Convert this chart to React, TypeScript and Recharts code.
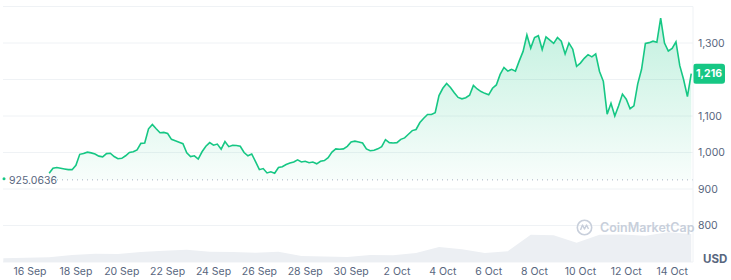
import React from 'react';
import { ComposedChart, Area, XAxis, YAxis, CartesianGrid, ReferenceLine } from 'recharts';

// time is counted in days from 16 Sep 00:00
const priceStartDay = 5 / 6; // 16 Sep 20:00
const priceStepsPerDay = 6; // one price every 4 hours
const volumeStartDay = -7 / 6; // 14 Sep 20:00, one volume per day

const priceValues = [
  943, 957, 959, 957, 955, 953, 953, 965, 995, 997,
  1001, 999, 996, 990, 988, 997, 998, 989, 983, 984,
  991, 1000, 1002, 1007, 1025, 1026, 1065, 1077, 1065, 1054,
  1055, 1052, 1036, 1032, 1028, 1024, 999, 989, 991, 982,
  1002, 1017, 1027, 1020, 1023, 1009, 1030, 1016, 1020, 1019,
  1017, 1000, 991, 996, 975, 953, 956, 944, 947, 943,
  959, 961, 967, 971, 974, 980, 974, 976, 972, 974,
  969, 976, 978, 986, 1001, 1010, 1009, 1010, 1017, 1029,
  1031, 1029, 1026, 1010, 1005, 1006, 1010, 1016, 1035, 1027,
  1026, 1027, 1036, 1040, 1050, 1060, 1063, 1082, 1094, 1104,
  1104, 1109, 1156, 1176, 1189, 1178, 1164, 1151, 1147, 1150,
  1157, 1184, 1174, 1167, 1162, 1158, 1176, 1185, 1214, 1233,
  1223, 1228, 1223, 1251, 1277, 1322, 1286, 1315, 1320, 1282,
  1317, 1308, 1299, 1315, 1305, 1270, 1300, 1283, 1236, 1245,
  1258, 1268, 1262, 1270, 1222, 1195, 1105, 1135, 1100, 1128,
  1160, 1146, 1120, 1128, 1188, 1228, 1299, 1301, 1305, 1302,
  1368, 1300, 1278, 1285, 1303, 1238, 1200, 1153, 1216,
];

// daily volume, $M
const volumeValues = [
  12, 13, 15, 22, 26, 25, 31, 35, 38, 32,
  31, 29, 32, 19, 17, 16, 22, 21, 28, 47,
  40, 28, 34, 85, 84, 60, 85, 86, 82, 93,
  88,
];

const openPrice = 925.0636;
const lastPrice = 1216;

const dayTicks = [0, 2, 4, 6, 8, 10, 12, 14, 16, 18, 20, 22, 24, 26, 28];
const dayLabels = ['16 Sep', '18 Sep', '20 Sep', '22 Sep', '24 Sep', '26 Sep', '28 Sep', '30 Sep', '2 Oct', '4 Oct', '6 Oct', '8 Oct', '10 Oct', '12 Oct', '14 Oct'];
const priceTicks = [700, 800, 900, 1000, 1100, 1200, 1300, 1400];
// gridlines only, no text (1,200 sits under the price badge)
const hiddenPriceLabels = [700, 1200, 1400];

const GREEN = '#16c784';
const AXIS_TEXT = '#58667e';

// merge both series onto one time table
const rows = new Map<string, any>();
const addRow = (t: number, patch: object) => {
  const key = t.toFixed(4);
  const row = rows.get(key) || { t };
  rows.set(key, Object.assign(row, patch));
};
priceValues.forEach((p, i) => addRow(priceStartDay + i / priceStepsPerDay, { price: p }));
volumeValues.forEach((v, k) => addRow(volumeStartDay + k, { volume: v }));
const chartData = [...rows.values()].sort((a, b) => a.t - b.t);

const OpenLabel = (props: any) => {
  const { viewBox } = props;
  const y = viewBox.y;
  return (
    <g>
      <rect x={0} y={y - 7} width={48} height={14} fill="#fff" />
      <circle cx={4} cy={y - 1} r={1.5} fill={GREEN} />
      <text x={9} y={y} dy="0.35em" fontSize={10.5} fill={AXIS_TEXT} fontFamily="Inter, sans-serif">
        {openPrice.toFixed(4)}
      </text>
    </g>
  );
};

const LastBadge = (props: any) => {
  const { viewBox } = props;
  const x = viewBox.x + viewBox.width;
  const y = viewBox.y;
  return (
    <g>
      <rect x={x} y={y - 10} width={32} height={20} rx={3} fill={GREEN} />
      <text x={x + 16} y={y} dy="0.35em" textAnchor="middle" fontSize={10.5} fontWeight={700} fill="#fff" fontFamily="Inter, sans-serif">
        {lastPrice.toLocaleString('en-US')}
      </text>
    </g>
  );
};

export default function App() {
  return (
    <div style={{ position: 'absolute', left: 0, top: 0, width: 731, height: 280, background: '#fff', fontFamily: 'Inter, sans-serif' }}>
      <ComposedChart width={731} height={280} data={chartData} margin={{ top: 6.5, right: 0, bottom: 0, left: 3 }}>
        <defs>
          <linearGradient id="priceFill" x1="0" y1="0" x2="0" y2="1">
            <stop offset="0%" stopColor={GREEN} stopOpacity={0.26} />
            <stop offset="100%" stopColor={GREEN} stopOpacity={0.03} />
          </linearGradient>
        </defs>
        <CartesianGrid yAxisId="price" vertical={false} stroke="#eff2f5" />
        <XAxis
          dataKey="t"
          type="number"
          domain={[-1.18, 28.91]}
          allowDataOverflow
          ticks={dayTicks}
          interval={0}
          tickFormatter={(v: number) => dayLabels[dayTicks.indexOf(v)]}
          axisLine={false}
          tickLine={false}
          tickSize={4}
          tickMargin={2}
          height={18}
          tick={{ fontSize: 10.5, fill: AXIS_TEXT }}
        />
        <YAxis yAxisId="vol" hide domain={[0, 800]} />
        <YAxis
          yAxisId="price"
          orientation="right"
          width={38}
          domain={[700, 1400]}
          ticks={priceTicks}
          interval={0}
          tickFormatter={(v: number) => (hiddenPriceLabels.includes(v) ? '' : v.toLocaleString('en-US'))}
          axisLine={{ stroke: '#eff2f5' }}
          tickLine={false}
          tickSize={3}
          tickMargin={2}
          tick={{ fontSize: 10.5, fill: AXIS_TEXT }}
        />
        <Area yAxisId="vol" type="linear" dataKey="volume" stroke="none" fill="#eceff3" fillOpacity={1} connectNulls isAnimationActive={false} />
        <Area
          yAxisId="price"
          type="linear"
          dataKey="price"
          baseValue={openPrice}
          stroke={GREEN}
          strokeWidth={1.6}
          fill="url(#priceFill)"
          fillOpacity={1}
          dot={false}
          activeDot={false}
          isAnimationActive={false}
        />
        <ReferenceLine yAxisId="price" y={openPrice} stroke="#a6b0c3" strokeDasharray="1 4" label={<OpenLabel />} />
        <ReferenceLine yAxisId="price" y={lastPrice} stroke="none" label={<LastBadge />} />
      </ComposedChart>
      <div style={{ position: 'absolute', left: 576, top: 219, display: 'flex', alignItems: 'center', gap: 7, color: '#c8cfdb', fontSize: 12.5, fontWeight: 600 }}>
        <svg width={17} height={17} viewBox="0 0 17 17">
          <circle cx={8.5} cy={8.5} r={7.2} fill="none" stroke="#c8cfdb" strokeWidth={1.6} />
          <path d="M4.5 11 L6.5 6 L8.5 10 L10.5 6 L12.5 10" fill="none" stroke="#c8cfdb" strokeWidth={1.5} strokeLinejoin="round" />
        </svg>
        <span>CoinMarketCap</span>
      </div>
      <div style={{ position: 'absolute', left: 703, top: 252, fontSize: 11.5, fontWeight: 700, color: AXIS_TEXT }}>USD</div>
    </div>
  );
}
